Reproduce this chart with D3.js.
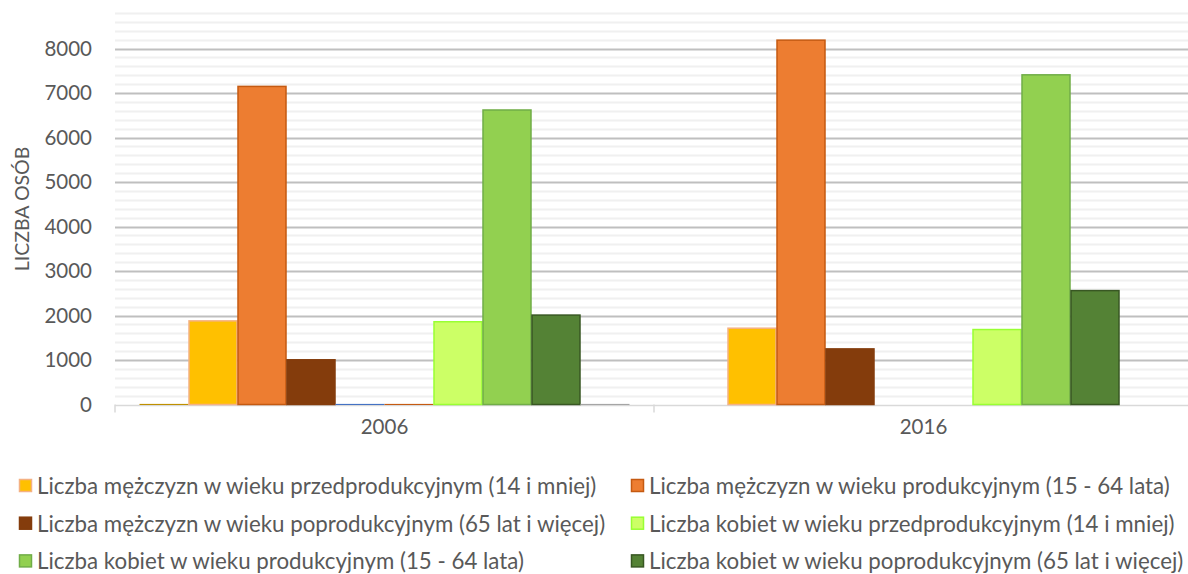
<!DOCTYPE html>
<html>
<head>
<meta charset="utf-8">
<script src="https://cdn.jsdelivr.net/npm/d3@7"></script>
<style>
  body { margin: 0; background: #fff; }
  text { font-family: Lato, "Open Sans", sans-serif; fill: #595959; }
</style>
</head>
<body>
<div id="vis"></div>
<script>
// categories
const years = ["2006", "2016"];

// series (order of the bars inside a group)
const seriesNames = [
  "ukryta 1",
  "Liczba mężczyzn w wieku przedprodukcyjnym (14 i mniej)",
  "Liczba mężczyzn w wieku produkcyjnym (15 - 64 lata)",
  "Liczba mężczyzn w wieku poprodukcyjnym (65 lat i więcej)",
  "ukryta 2",
  "ukryta 3",
  "Liczba kobiet w wieku przedprodukcyjnym (14 i mniej)",
  "Liczba kobiet w wieku produkcyjnym (15 - 64 lata)",
  "Liczba kobiet w wieku poprodukcyjnym (65 lat i więcej)",
  "ukryta 4"
];
const inLegend = [false, true, true, true, false, false, true, true, true, false];

// values per series, [2006, 2016]; null = no point
const values = [
  [0, null],
  [1880, 1715],
  [7150, 8190],
  [1005, 1250],
  [0, null],
  [0, null],
  [1860, 1685],
  [6620, 7410],
  [2010, 2560],
  [0, null]
];

const fills   = ["#ffc000", "#ffc000", "#ed7d31", "#843c0c", "#4472c4", "#ed7d31", "#ccff66", "#92d050", "#548235", "#a5a5a5"];
const strokes = ["#bf9000", "#f4b183", "#c55a11", "#843c0c", "#4472c4", "#c55a11", "#99ff33", "#70ad47", "#385723", "#a5a5a5"];

const majorTicks = [0, 1000, 2000, 3000, 4000, 5000, 6000, 7000, 8000];

const svg = d3.select("#vis")
    .append("svg")
    .attr("width", 1188)
    .attr("height", 574);

const plotLeft = 115, plotRight = 1193, plotTop = 13, plotBottom = 404.5;

const x0 = d3.scaleBand()
    .domain(years)
    .range([plotLeft, plotRight])
    .paddingInner(0)
    .paddingOuter(0);

const x1 = d3.scaleBand()
    .domain(d3.range(seriesNames.length))
    .range([0, x0.bandwidth()])
    .paddingInner(0)
    .paddingOuter(0.5);

const y = d3.scaleLinear()
    .domain([0, 8800])
    .range([plotBottom, plotTop]);

// minor gridlines
svg.append("g")
    .selectAll("line")
    .data(d3.range(200, 8801, 200).filter(v => v % 1000 !== 0))
    .enter()
    .append("line")
    .attr("x1", plotLeft).attr("x2", 1188)
    .attr("y1", d => Math.round(y(d)) + 0.5)
    .attr("y2", d => Math.round(y(d)) + 0.5)
    .style("stroke", "#f0f0f0")
    .style("stroke-width", 2);

// major gridlines
svg.append("g")
    .selectAll("line")
    .data(majorTicks.slice(1))
    .enter()
    .append("line")
    .attr("x1", plotLeft).attr("x2", 1188)
    .attr("y1", d => Math.round(y(d)) + 0.5)
    .attr("y2", d => Math.round(y(d)) + 0.5)
    .style("stroke", "#bfbfbf")
    .style("stroke-width", 2);

// y axis labels
const yAxis = d3.axisLeft(y)
    .tickValues(majorTicks)
    .tickSize(0)
    .tickPadding(0)
    .tickFormat(d3.format("d"));

svg.append("g")
    .attr("transform", "translate(92,0)")
    .call(yAxis)
    .call(g => g.select(".domain").remove())
    .selectAll("text")
    .style("font-family", "Lato, sans-serif")
    .style("font-size", "20.5px")
    .style("fill", "#595959");

// axis title
svg.append("text")
    .attr("transform", "translate(29,209) rotate(-90)")
    .attr("text-anchor", "middle")
    .style("font-size", "19.5px")
    .text("LICZBA OSÓB");

// x axis line
svg.append("line")
    .attr("x1", plotLeft).attr("x2", 1188)
    .attr("y1", plotBottom + 1).attr("y2", plotBottom + 1)
    .style("stroke", "#d9d9d9")
    .style("stroke-width", 1.5);

// bars
const groups = svg.append("g")
    .selectAll("g")
    .data(years)
    .enter()
    .append("g")
    .attr("transform", d => `translate(${x0(d)},0)`);

groups.selectAll("rect")
    .data((yr, i) => values.map((v, s) => ({ s: s, v: v[i] })).filter(d => d.v !== null))
    .enter()
    .append("rect")
    .attr("x", d => x1(d.s) + 0.5)
    .attr("width", x1.bandwidth() - 1)
    .attr("y", d => Math.min(y(d.v), plotBottom - 0.1))
    .attr("height", d => Math.max(plotBottom - y(d.v), 0.1))
    .style("fill", d => fills[d.s])
    .style("stroke", d => strokes[d.s])
    .style("stroke-width", d => d.v === 0 ? 1 : 1.5);

// x axis labels
const xAxis = d3.axisBottom(x0)
    .tickSize(0)
    .tickPadding(14);

const xg = svg.append("g")
    .attr("transform", `translate(0,${plotBottom + 0.5})`)
    .call(xAxis);
xg.select(".domain").remove();
xg.selectAll("text")
    .style("font-family", "Lato, sans-serif")
    .style("font-size", "20.5px")
    .style("fill", "#595959");

svg.append("g")
    .selectAll("line")
    .data([plotLeft, x0("2016"), plotRight])
    .enter()
    .append("line")
    .attr("x1", d => d).attr("x2", d => d)
    .attr("y1", plotBottom).attr("y2", plotBottom + 8)
    .style("stroke", "#d9d9d9")
    .style("stroke-width", 1.5);

// legend
const legendItems = d3.range(seriesNames.length).filter(i => inLegend[i]);
const legend = svg.append("g")
    .selectAll("g")
    .data(legendItems)
    .enter()
    .append("g")
    .attr("transform", (d, i) => `translate(${i % 2 === 0 ? 19 : 631},${486 + Math.floor(i / 2) * 37.7})`);

legend.append("rect")
    .attr("x", 0.5).attr("y", -6.5)
    .attr("width", 12).attr("height", 12)
    .style("fill", d => fills[d])
    .style("stroke", d => strokes[d])
    .style("stroke-width", 1.5);

legend.append("text")
    .attr("x", 18)
    .attr("dy", "0.35em")
    .style("font-size", "22.3px")
    .text(d => seriesNames[d]);
</script>
</body>
</html>
